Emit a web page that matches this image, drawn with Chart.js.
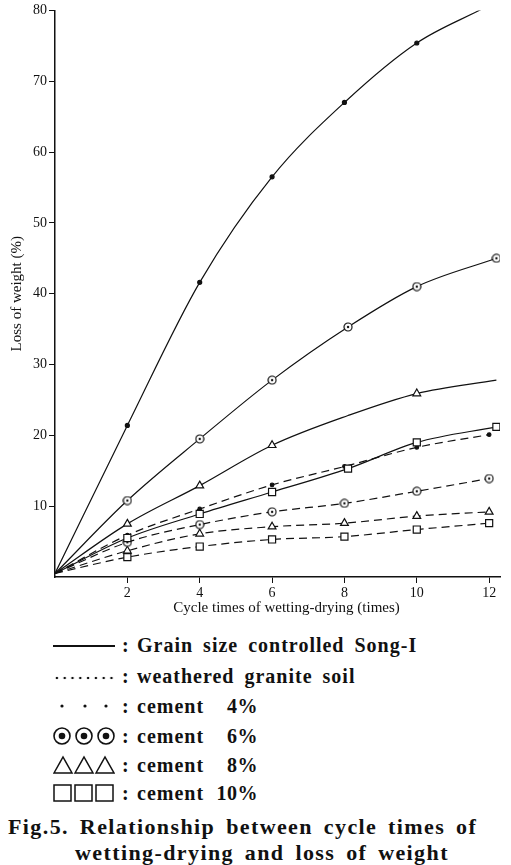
<!DOCTYPE html>
<html>
<head>
<meta charset="utf-8">
<script src="https://cdn.jsdelivr.net/npm/chart.js@4"></script>
<style>
  html, body { margin: 0; background: #fff; }
  #wrap { position: relative; width: 511px; height: 865px; font-family: "Liberation Serif", serif; color: #111; overflow: hidden; }
  #plot { position: absolute; left: 0; top: 0; width: 511px; height: 622px; }
  .row { position: absolute; left: 0; width: 511px; height: 30px; line-height: 30px; font-size: 20px; font-weight: bold; letter-spacing: 1px; word-spacing: 4px; }
  .row > * { position: absolute; }
  .amostra { left: 53px; width: 62px; height: 30px; }
  .dois-pontos { left: 122px; }
  .texto { left: 137px; white-space: nowrap; }
  .pct { right: 253px; white-space: nowrap; letter-spacing: 0.5px; }
  .legenda-svg { left: 53px; top: 5px; }
  .titulo { position: absolute; font-size: 22px; font-weight: bold; white-space: nowrap; letter-spacing: 1.4px; word-spacing: 4px; }
</style>
</head>
<body>
<div id="wrap">
  <div id="plot"><canvas id="grafico"></canvas></div>

  <div class="row" style="top:630px">
    <div class="amostra"><div style="margin-top:15px;border-top:2.5px solid #111"></div></div>
    <span class="dois-pontos">:</span><span class="texto">Grain size controlled Song-I</span>
  </div>
  <div class="row" style="top:661px">
    <div class="amostra"><div style="margin-top:15px;height:4px;background:radial-gradient(circle,#111 1.2px,transparent 1.6px) 0 0/7.8px 4px"></div></div>
    <span class="dois-pontos">:</span><span class="texto">weathered granite soil</span>
  </div>
  <div class="row" style="top:691px">
    <svg class="legenda-svg" width="62" height="20"><circle cx="9" cy="10" r="1.6" fill="#111"/><circle cx="32" cy="10" r="1.6" fill="#111"/><circle cx="53" cy="10" r="1.6" fill="#111"/></svg>
    <span class="dois-pontos">:</span><span class="texto">cement</span><span class="pct">4%</span>
  </div>
  <div class="row" style="top:721px">
    <svg class="legenda-svg" width="62" height="20"><g fill="none" stroke="#111" stroke-width="1.6"><circle cx="9" cy="10" r="8"/><circle cx="31" cy="10" r="8"/><circle cx="53" cy="10" r="8"/></g><g fill="#111"><circle cx="9" cy="10" r="3.3"/><circle cx="31" cy="10" r="3.3"/><circle cx="53" cy="10" r="3.3"/></g></svg>
    <span class="dois-pontos">:</span><span class="texto">cement</span><span class="pct">6%</span>
  </div>
  <div class="row" style="top:750px">
    <svg class="legenda-svg" width="62" height="20"><g fill="none" stroke="#111" stroke-width="1.5"><path d="M1 18 L10 2 L19 18 Z"/><path d="M22 18 L31 2 L40 18 Z"/><path d="M43 18 L52 2 L61 18 Z"/></g></svg>
    <span class="dois-pontos">:</span><span class="texto">cement</span><span class="pct">8%</span>
  </div>
  <div class="row" style="top:778px">
    <svg class="legenda-svg" width="62" height="20"><g fill="none" stroke="#111" stroke-width="1.5"><rect x="1" y="2" width="17" height="16"/><rect x="22" y="2" width="17" height="16"/><rect x="43" y="2" width="17" height="16"/></g></svg>
    <span class="dois-pontos">:</span><span class="texto">cement</span><span class="pct">10%</span>
  </div>

  <div class="titulo" style="left:8px;top:814px">Fig.5. Relationship between cycle times of</div>
  <div class="titulo" style="left:75px;top:840px">wetting-drying and loss of weight</div>
</div>

<script>
// wetting-drying cycles (x) and loss of weight in % (y), one array per curve
const CYCLES = [0, 2, 4, 6, 8, 10, 12];
const CYCLES_SONG = [0, 2, 4, 6, 8.1, 10, 12.2];
const CYCLES_SONG_C4 = [0, 2, 4, 6, 8, 10, 11.8];

// Grain size controlled Song-I (solid lines)
const SONG_C4 = [0.5, 21.4, 41.6, 56.5, 67, 75.4, 80.2];
const SONG_C6 = [0.5, 10.8, 19.5, 27.8, 35.3, 41, 45];
const SONG_C8 = [0.5, 7.5, 12.9, 18.6, 22.8, 25.9, 27.8];
const SONG_C10 = [0.5, 5.5, 8.9, 12, 15.3, 19, 21.2];

// weathered granite soil (dashed lines)
const GRANITE_C4 = [0.5, 5.9, 9.6, 13, 15.6, 18.3, 20.1];
const GRANITE_C6 = [0.5, 4.9, 7.4, 9.2, 10.4, 12.1, 13.9];
const GRANITE_C8 = [0.5, 3.7, 6.1, 7.1, 7.6, 8.6, 9.2];
const GRANITE_C10 = [0.5, 2.8, 4.3, 5.3, 5.7, 6.7, 7.6];

const X_TICKS = [2, 4, 6, 8, 10, 12];
const Y_TICKS = [10, 20, 30, 40, 50, 60, 70, 80];
const X_TITLE = "Cycle times of wetting-drying (times)";
const Y_TITLE = "Loss of weight (%)";

const TINTA = "#111";
const FONTE = "Liberation Serif";

// circle with a dot in the middle (cement 6%)
function circuloPonto(d) {
  const c = document.createElement("canvas");
  c.width = c.height = d;
  const g = c.getContext("2d");
  g.fillStyle = "#fff";
  g.strokeStyle = TINTA;
  g.lineWidth = 1.2;
  g.beginPath(); g.arc(d / 2, d / 2, d / 2 - 1, 0, Math.PI * 2); g.fill(); g.stroke();
  g.fillStyle = TINTA;
  g.beginPath(); g.arc(d / 2, d / 2, 1.2, 0, Math.PI * 2); g.fill();
  return c;
}
const CIRC = circuloPonto(10);

function serie(xs, ys, estilo) {
  return Object.assign({
    data: xs.map((x, i) => ({ x, y: ys[i] })),
    borderColor: TINTA, borderWidth: 1.2, cubicInterpolationMode: "monotone",
    pointBorderColor: TINTA, pointBackgroundColor: "#fff", pointBorderWidth: 1.2,
  }, estilo);
}

const TRACO = [8, 5];

const datasets = [
  serie(CYCLES_SONG_C4, SONG_C4, { pointStyle: "circle", pointRadius: [0, 2, 2, 2, 2, 2, 0], pointBackgroundColor: TINTA }),
  serie(CYCLES_SONG, SONG_C6, { pointStyle: CIRC, pointRadius: [0, 5, 5, 5, 5, 5, 5] }),
  serie(CYCLES_SONG, SONG_C8, { pointStyle: "triangle", pointRadius: [0, 4.5, 4.5, 4.5, 0, 4.5, 0] }),
  serie(CYCLES_SONG, SONG_C10, { pointStyle: "rect", pointRadius: [0, 5, 5, 5, 5, 5, 5] }),
  serie(CYCLES, GRANITE_C4, { borderDash: TRACO, pointStyle: "circle", pointRadius: [0, 1.8, 1.8, 1.8, 1.8, 1.8, 1.8], pointBackgroundColor: TINTA }),
  serie(CYCLES, GRANITE_C6, { borderDash: TRACO, pointStyle: CIRC, pointRadius: [0, 5, 5, 5, 5, 5, 5] }),
  serie(CYCLES, GRANITE_C8, { borderDash: TRACO, pointStyle: "triangle", pointRadius: [0, 4.5, 4.5, 4.5, 4.5, 4.5, 4.5] }),
  serie(CYCLES, GRANITE_C10, { borderDash: TRACO, pointStyle: "rect", pointRadius: [0, 5, 5, 5, 5, 5, 5] }),
];

const eixo = (ticks) => ({
  type: "linear",
  afterBuildTicks: (s) => { s.ticks = ticks.map((v) => ({ value: v })); },
  grid: { drawOnChartArea: false, drawTicks: true, tickLength: 6, color: TINTA, lineWidth: 1 },
  border: { display: true, color: TINTA, width: 1.5 },
  ticks: { color: TINTA, font: { family: FONTE, size: 14 }, padding: 2 },
});

const escalaX = eixo(X_TICKS);
escalaX.min = 0; escalaX.max = 12.3;
escalaX.afterFit = (s) => { s.height = 45; };

const escalaY = eixo(Y_TICKS);
escalaY.min = 0; escalaY.max = 80;
escalaY.title = { display: true, text: Y_TITLE, color: TINTA, font: { family: FONTE, size: 15 }, padding: { top: 8, bottom: 0 } };
escalaY.afterFit = (s) => { s.width = 55; };

// x-axis title sits a little right of the plot centre, under x ≈ 6.4
const tituloX = {
  id: "tituloX",
  afterDraw(chart) {
    const { ctx } = chart;
    const sx = chart.scales.x;
    ctx.save();
    ctx.font = `15px "${FONTE}"`;
    ctx.fillStyle = TINTA;
    ctx.textAlign = "center";
    ctx.textBaseline = "middle";
    ctx.fillText(X_TITLE, sx.getPixelForValue(6.4), sx.bottom - 14);
    ctx.restore();
  },
};

new Chart(document.getElementById("grafico"), {
  type: "line",
  data: { datasets },
  options: {
    responsive: true, maintainAspectRatio: false, animation: false,
    layout: { padding: { top: 8, right: 11, left: 0, bottom: 0 } },
    plugins: { legend: { display: false }, tooltip: { enabled: false } },
    scales: { x: escalaX, y: escalaY },
  },
  plugins: [tituloX],
});
</script>
</body>
</html>
